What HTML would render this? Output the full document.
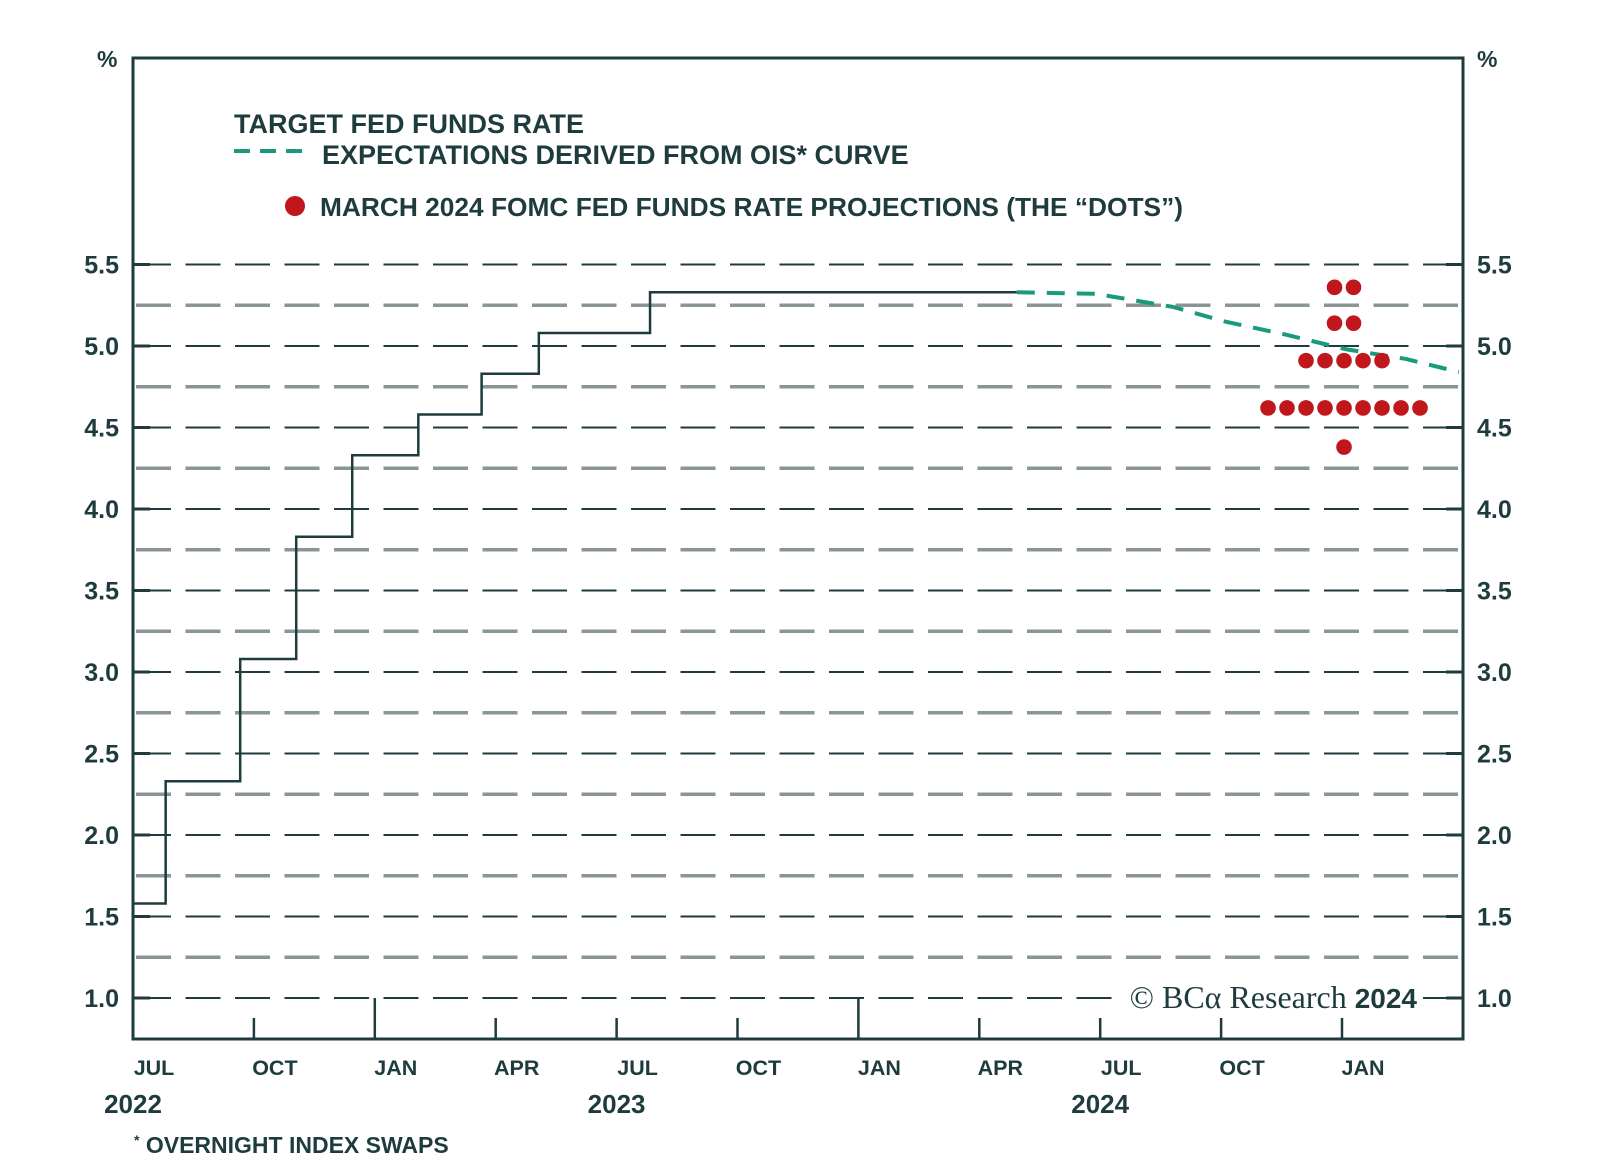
<!DOCTYPE html>
<html><head><meta charset="utf-8">
<style>
body{margin:0;background:#fff;}
svg{display:block;font-family:"Liberation Sans",sans-serif;}
.t{fill:#1e3b3d;font-weight:bold;}
</style></head>
<body>
<svg id="chart" width="1600" height="1163" viewBox="0 0 1600 1163" xmlns="http://www.w3.org/2000/svg">
<g id="grid"></g>
<g id="ticks"></g>
<g id="series"></g>
<rect x="133" y="58" width="1330" height="981" fill="none" stroke="#1e3b3d" stroke-width="3"/>
<text class="t" x="97" y="67" font-size="23">%</text>
<text class="t" x="1477" y="67" font-size="23">%</text>
<g>
<text class="t" x="234" y="133" font-size="27">TARGET FED FUNDS RATE</text>
<line x1="234" y1="151" x2="309" y2="151" stroke="#1a9a7c" stroke-width="4" stroke-dasharray="16 10"/>
<text class="t" x="322" y="164" font-size="27">EXPECTATIONS DERIVED FROM OIS* CURVE</text>
<circle cx="295" cy="206" r="10" fill="#c0171c"/>
<text class="t" x="320" y="216" font-size="26.3">MARCH 2024 FOMC FED FUNDS RATE PROJECTIONS (THE “DOTS”)</text>
</g>
<rect x="1116" y="976" width="304" height="42" fill="#fff"/>
<text x="1417" y="1008" text-anchor="end" font-size="32" fill="#1e3b3d" font-family="Liberation Serif, serif">© BCα Research <tspan font-family="Liberation Sans, sans-serif" font-weight="bold" font-size="28">2024</tspan></text>
<text class="t" x="134" y="1153" font-size="23"><tspan font-size="14" dy="-8">*</tspan><tspan dy="8"> OVERNIGHT INDEX SWAPS</tspan></text>
</svg>
<script>
const yTicks=[1.0,1.5,2.0,2.5,3.0,3.5,4.0,4.5,5.0,5.5];
const xLabels=["JUL","OCT","JAN","APR","JUL","OCT","JAN","APR","JUL","OCT","JAN"];
const yearLabels=[["2022",0],["2023",12],["2024",24]];
// months since Jul 1 2022
const stepMonths=[0,0.81,2.66,4.05,5.44,7.08,8.65,10.07,12.83,21.93];
const stepValues=[1.58,2.33,3.08,3.83,4.33,4.58,4.83,5.08,5.33,5.33];
const oisMonths=[21.93,23.9,25.8,27.1,28.6,30.1,31.6,32.9];
const oisValues=[5.33,5.32,5.24,5.15,5.07,4.98,4.92,4.84];
const dotValues=[5.36,5.14,4.91,4.62,4.38];
const dotCounts=[2,2,5,9,1];
const dotCenterMonth=30.05;

const NS="http://www.w3.org/2000/svg";
const X=m=>133+m*40.3;
const Y=v=>998-(v-1)*163;
function mk(tag,attrs,parent){const e=document.createElementNS(NS,tag);for(const k in attrs)e.setAttribute(k,attrs[k]);parent.appendChild(e);return e;}
const svg=document.getElementById('chart');
const grid=document.getElementById('grid'),ticks=document.getElementById('ticks'),series=document.getElementById('series');

for(let v=1.0;v<=5.5001;v+=0.25){
  const major=Math.abs(v*2-Math.round(v*2))<1e-6;
  const l=mk('line',{x1:136,x2:1460,y1:Y(v),y2:Y(v),stroke:major?'#1e3b3d':'#8a9695','stroke-width':major?2:3.5,'stroke-dasharray':'35 14.5'},grid);
  
  
}
yTicks.forEach(v=>{
  const a=mk('text',{x:119,y:Y(v)+9,'text-anchor':'end','font-size':25,class:'t'},svg);a.textContent=v.toFixed(1);
  
  
  const b=mk('text',{x:1477,y:Y(v)+9,'font-size':25,class:'t'},svg);b.textContent=v.toFixed(1);
  
  
  const t1=mk('line',{x1:133,x2:150,y1:Y(v),y2:Y(v),stroke:'#1e3b3d','stroke-width':3},ticks);
  
  
  const t2=mk('line',{x1:1446,x2:1463,y1:Y(v),y2:Y(v),stroke:'#1e3b3d','stroke-width':3},ticks);
  
  
});
xLabels.forEach((lab,i)=>{
  const m=i*3;
  if(i>0){const tall=(lab==="JAN"&&i<10);
    const t=mk('line',{x1:X(m),x2:X(m),y1:1039,y2:tall?998:1018,stroke:'#1e3b3d','stroke-width':2.5},ticks);
    
    }
  const e=mk('text',{x:X(m)+21,y:1075,'text-anchor':'middle','font-size':21.5,class:'t'},svg);e.textContent=lab;
  
  
});
yearLabels.forEach(([y,m])=>{
  const e=mk('text',{x:X(m),y:1113,'text-anchor':'middle','font-size':26,class:'t'},svg);e.textContent=y;
  
  
});
let d=`M${X(stepMonths[0])},${Y(stepValues[0])}`;
for(let i=1;i<stepMonths.length;i++){d+=` H${X(stepMonths[i])} V${Y(stepValues[i])}`;}
const sp=mk('path',{d:d,fill:'none',stroke:'#1e3b3d','stroke-width':2.5},series);


const od='M'+oisMonths.map((m,i)=>`${X(m)},${Y(oisValues[i])}`).join(' L');
const op=mk('path',{d:od,fill:'none',stroke:'#1a9a7c','stroke-width':4,'stroke-dasharray':'18 12'},series);


dotValues.forEach((v,i)=>{
  const n=dotCounts[i];
  for(let k=0;k<n;k++){
    const cx=X(dotCenterMonth)+(k-(n-1)/2)*19;
    const c=mk('circle',{cx:cx,cy:Y(v),r:7.8,fill:'#c0171c'},series);
    
    
  }
});
</script>
</body></html>
